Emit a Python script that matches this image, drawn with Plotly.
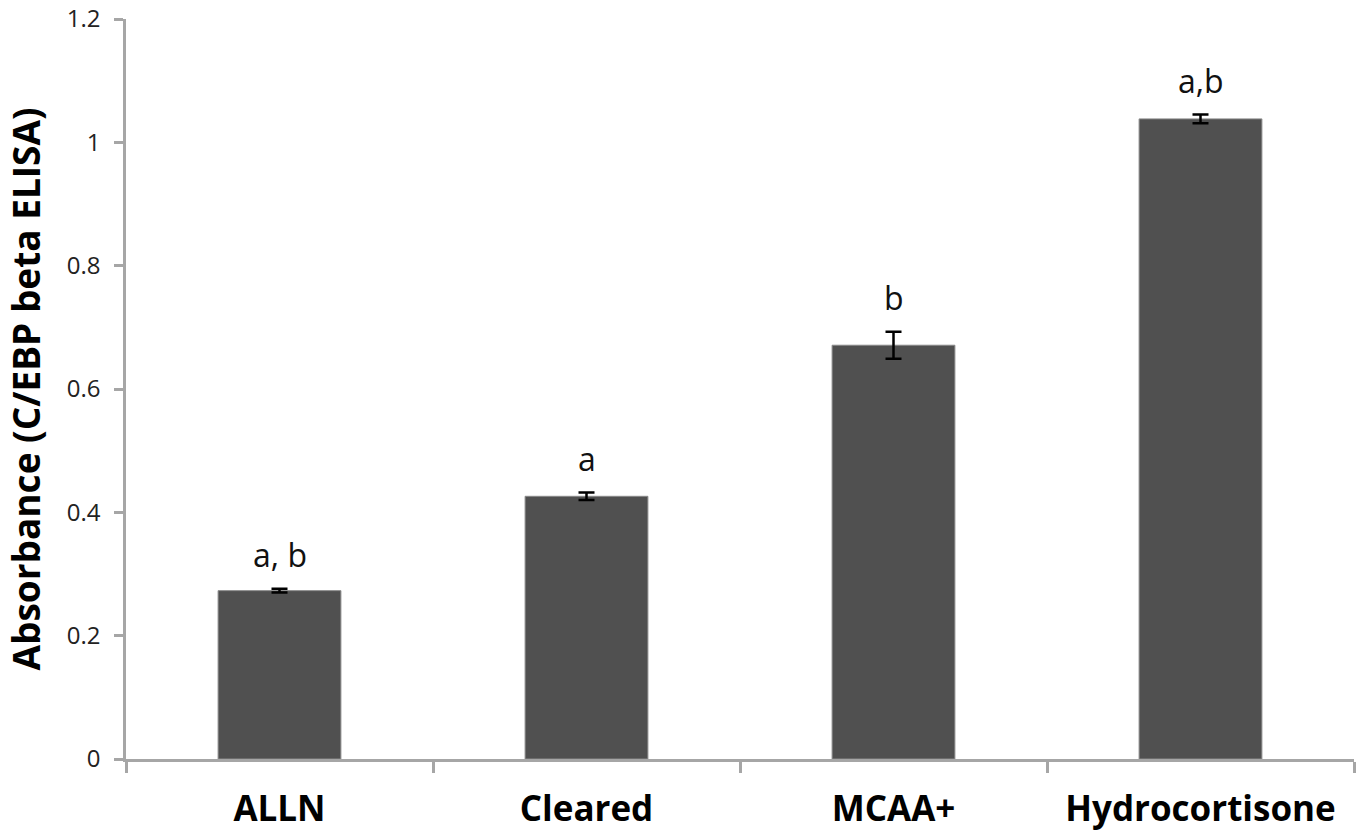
import plotly.graph_objects as go

categories = ["ALLN", "Cleared", "MCAA+", "Hydrocortisone"]
values = [0.273, 0.426, 0.671, 1.038]
errors = [0.003, 0.006, 0.022, 0.007]
sig_labels = ["a, b", "a", "b", "a,b"]
y_ticks = [0, 0.2, 0.4, 0.6, 0.8, 1, 1.2]
y_tick_text = ["0", "0.2", "0.4", "0.6", "0.8", "1", "1.2"]

FONT = "Open Sans"
AXIS_GRAY = "#a6a6a6"

fig = go.Figure()
fig.add_trace(go.Bar(
    x=categories, y=values,
    width=0.4,
    marker=dict(color="#505050", line=dict(color="#8a8a8a", width=1)),
    error_y=dict(type="data", array=errors, visible=True,
                 color="black", thickness=2.5, width=8),
    showlegend=False,
))

for c, v, e, t in zip(categories, values, errors, sig_labels):
    fig.add_annotation(x=c, y=v + e, text=t, showarrow=False,
                       yanchor="bottom", yshift=11,
                       font=dict(family=FONT, size=32, color="#111"))

fig.update_layout(
    width=1361, height=840,
    margin=dict(l=126, r=7, t=19, b=81),
    plot_bgcolor="white", paper_bgcolor="white",
    bargap=0.6,
)
fig.update_xaxes(
    type="category", tickson="boundaries", automargin=False,
    showline=True, linecolor=AXIS_GRAY, linewidth=2.5,
    ticks="outside", ticklen=11, tickwidth=2.5, tickcolor=AXIS_GRAY,
    tickfont=dict(family=FONT, size=35, color="black", weight="bold"),
    ticklabelstandoff=17,
    showgrid=False, zeroline=False,
)
fig.update_yaxes(
    range=[0, 1.2], tickvals=y_ticks, ticktext=y_tick_text, automargin=False,
    showline=True, linecolor=AXIS_GRAY, linewidth=2.5,
    ticks="outside", ticklen=9, tickwidth=2.5, tickcolor=AXIS_GRAY,
    tickfont=dict(family=FONT, size=24, color="#222"),
    ticklabelstandoff=9,
    showgrid=False, zeroline=False,
    title=dict(text="Absorbance (C/EBP beta ELISA)",
               font=dict(family=FONT, size=37, color="black", weight="bold"),
               standoff=20),
)

fig.write_html("out.html")
